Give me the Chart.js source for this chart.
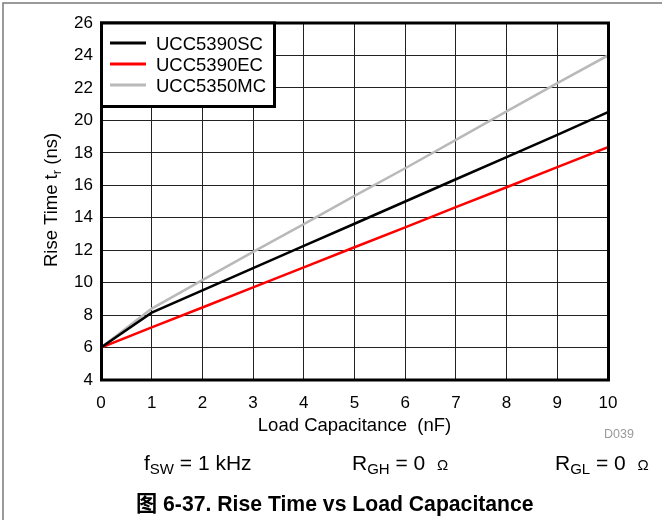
<!DOCTYPE html>
<html>
<head>
<meta charset="utf-8">
<title>Rise Time vs Load Capacitance</title>
<script src="https://cdn.jsdelivr.net/npm/chart.js@4.4.1/dist/chart.umd.min.js"></script>
<style>
  html, body { margin: 0; padding: 0; background: #fff; }
  #wrap { width: 662px; height: 520px; }
</style>
</head>
<body>
<div id="wrap"><canvas id="chart" width="662" height="520"></canvas></div>
<script>
// values (load capacitance in nF, rise time in ns)
const loadCap = [0, 1, 2, 3, 4, 5, 6, 7, 8, 9, 10];
const riseSC = [6.0, 8.15, 9.52, 10.9, 12.26, 13.63, 15.0, 16.37, 17.74, 19.11, 20.5];
const riseEC = [6.0, 7.24, 8.47, 9.71, 10.94, 12.18, 13.41, 14.65, 15.88, 17.12, 18.35];
const riseMC = [6.0, 8.4, 10.15, 11.9, 13.6, 15.35, 17.05, 18.8, 20.55, 22.3, 24.0];
const seriesNames = ["UCC5390SC", "UCC5390EC", "UCC5350MC"];
const seriesColors = ["#000000", "#ff0000", "#b9b9b9"];
const xMin = 0, xMax = 10, xStep = 1;
const yMin = 4, yMax = 26, yStep = 2;

const FONT = "'Liberation Sans', Arial, Helvetica, 'Noto Sans CJK SC', sans-serif";

const toPoints = (ys) => ys.map((y, i) => ({ x: loadCap[i], y }));

// draw a line of text made of pieces (for subscripts)
function drawRuns(ctx, runs, x, y, align) {
  let total = 0;
  runs.forEach((r) => {
    ctx.font = (r.bold ? "bold " : "") + r.size + "px " + FONT;
    r.w = ctx.measureText(r.t).width;
    total += r.w;
  });
  let cx = align === "center" ? x - total / 2 : x;
  runs.forEach((r) => {
    ctx.font = (r.bold ? "bold " : "") + r.size + "px " + FONT;
    ctx.fillText(r.t, cx, y + (r.dy || 0));
    cx += r.w;
  });
}

const figureDecor = {
  id: "figureDecor",
  beforeDraw(chart) {
    const ctx = chart.ctx;
    ctx.save();
    ctx.fillStyle = "#fff";
    ctx.fillRect(0, 0, chart.width, chart.height);
    ctx.strokeStyle = "#7a7a7a";
    ctx.lineWidth = 1.5;
    ctx.beginPath();
    ctx.moveTo(3, chart.height);
    ctx.lineTo(3, 3);
    ctx.lineTo(chart.width, 3);
    ctx.stroke();
    ctx.restore();
  },
  afterDatasetsDraw(chart) {
    const { ctx, chartArea: a } = chart;
    ctx.save();
    ctx.strokeStyle = "#000";
    ctx.lineWidth = 3;
    ctx.strokeRect(a.left + 0.5, a.top, a.right - a.left, a.bottom - a.top);

    // legend box in the top-left corner of the plot
    const lx = a.left + 0.5, ly = a.top, lw = 173, lh = 83.5;
    ctx.fillStyle = "#fff";
    ctx.fillRect(lx, ly, lw, lh);
    ctx.strokeRect(lx, ly, lw, lh);
    ctx.textBaseline = "alphabetic";
    chart.data.datasets.forEach((ds, i) => {
      const cy = ly + 20 + i * 21;
      ctx.strokeStyle = ds.borderColor;
      ctx.lineWidth = 3;
      ctx.beginPath();
      ctx.moveTo(lx + 8.5, cy);
      ctx.lineTo(lx + 44.5, cy);
      ctx.stroke();
      ctx.fillStyle = "#000";
      ctx.font = "18.5px " + FONT;
      ctx.fillText(ds.label, lx + 54.5, cy + 7.3);
    });
    ctx.restore();
  },
  afterDraw(chart) {
    const { ctx, chartArea: a } = chart;
    ctx.save();
    ctx.fillStyle = "#000";
    ctx.textBaseline = "alphabetic";

    // axis titles
    drawRuns(ctx, [{ t: "Load Capacitance  (nF)", size: 18.5 }], (a.left + a.right) / 2, 431, "center");
    ctx.save();
    ctx.translate(57, 200);
    ctx.rotate(-Math.PI / 2);
    drawRuns(ctx, [
      { t: "Rise Time t", size: 18.5 },
      { t: "r", size: 13, dy: 4 },
      { t: " (ns)", size: 18.5 },
    ], 0, 0, "center");
    ctx.restore();

    // figure id
    ctx.fillStyle = "#9a9a9a";
    drawRuns(ctx, [{ t: "D039", size: 12.5 }], 604, 437.5, "left");

    // test conditions
    ctx.fillStyle = "#000";
    drawRuns(ctx, [
      { t: "f", size: 21 },
      { t: "SW", size: 15, dy: 4 },
      { t: " = 1 kHz", size: 21 },
    ], 144, 469.5, "left");
    drawRuns(ctx, [
      { t: "R", size: 21 },
      { t: "GH", size: 15, dy: 4 },
      { t: " = 0  ", size: 21 },
      { t: "Ω", size: 15 },
    ], 352, 470, "left");
    drawRuns(ctx, [
      { t: "R", size: 21 },
      { t: "GL", size: 15, dy: 4 },
      { t: " = 0  ", size: 21 },
      { t: "Ω", size: 15 },
    ], 555, 470, "left");

    // caption
    drawRuns(ctx, [{ t: "图 6-37. Rise Time vs Load Capacitance", size: 21.2, bold: true }], 136, 511, "left");
    ctx.restore();
  },
};

const gridStyle = { color: "#222", lineWidth: 1, drawTicks: false };
const tickFont = { family: FONT, size: 17 };

new Chart(document.getElementById("chart"), {
  type: "line",
  data: {
    datasets: [
      { label: seriesNames[0], data: toPoints(riseSC), borderColor: seriesColors[0], borderWidth: 2.5 },
      { label: seriesNames[1], data: toPoints(riseEC), borderColor: seriesColors[1], borderWidth: 2.5 },
      { label: seriesNames[2], data: toPoints(riseMC), borderColor: seriesColors[2], borderWidth: 2.5 },
    ],
  },
  options: {
    responsive: false,
    animation: false,
    devicePixelRatio: 1,
    layout: { padding: { left: 0, top: 23, right: 54, bottom: 110 } },
    elements: { point: { radius: 0 }, line: { tension: 0 } },
    plugins: {
      legend: { display: false },
      tooltip: { enabled: false },
    },
    scales: {
      x: {
        type: "linear",
        min: xMin,
        max: xMax,
        afterFit: (s) => { s.height = 30; },
        grid: gridStyle,
        border: { display: false },
        ticks: { stepSize: xStep, color: "#000", font: tickFont, padding: 13, maxRotation: 0 },
      },
      y: {
        type: "linear",
        min: yMin,
        max: yMax,
        afterFit: (s) => { s.width = 101; },
        grid: gridStyle,
        border: { display: false },
        ticks: { stepSize: yStep, color: "#000", font: tickFont, padding: 8 },
      },
    },
  },
  plugins: [figureDecor],
});
</script>
</body>
</html>
